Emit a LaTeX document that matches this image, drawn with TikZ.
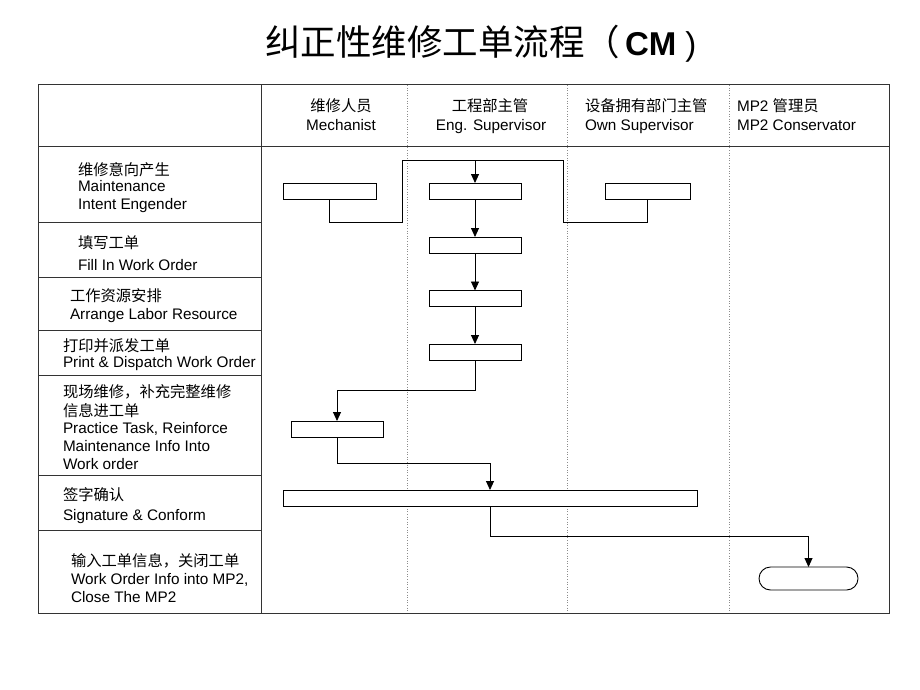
\documentclass[tikz,border=0pt]{standalone}
\usepackage{fontspec}
\setmainfont{Liberation Sans}
\newfontfamily\cjk{Noto Sans CJK SC}
\usetikzlibrary{arrows.meta}
\begin{document}
\begin{tikzpicture}[x=1pt,y=-1pt,
  every node/.style={inner sep=0pt, outer sep=0pt},
  txt/.style={anchor=base west, font=\fontsize{15.3}{18}\selectfont},
  ctxt/.style={anchor=base, font=\fontsize{15.3}{18}\selectfont},
  frame/.style={draw=black!80, line width=1pt},
  lane/.style={draw=black!45, dotted, line width=0.6pt},
  box/.style={draw, line width=0.9pt, minimum height=16pt, fill=white},
  flow/.style={draw, line width=0.9pt},
  arr/.style={flow, -{Triangle[width=8pt,length=9pt]}}
]
\useasboundingbox[fill=white] (0,0) rectangle (920,690);

% title
\node[anchor=base west, font=\fontsize{35.5}{40}\selectfont] (title) at (265,56)
  {{\cjk 纠正性维修工单流程（}\hspace{5pt}{\bfseries\fontsize{33}{36}\selectfont CM}\fontsize{33}{36}\selectfont\ )};

% lanes
\draw[lane] (407,85) -- (407,613);
\draw[lane] (567,85) -- (567,613);
\draw[lane] (729,85) -- (729,613);

% frame
\draw[frame] (38,85) rectangle (889,613);
\draw[frame] (38,146) -- (889,146);
\draw[frame] (261,85) -- (261,613);
\foreach \yy in {222,277,330,375,475,530} \draw[frame] (38,\yy) -- (261,\yy);

% header
\node[ctxt] (h1a) at (341,112) {\cjk 维修人员};
\node[ctxt] (h1b) at (341,130) {Mechanist};
\node[ctxt] (h2a) at (490,112) {\cjk 工程部主管};
\node[ctxt] (h2b) at (491,130) {Eng. Supervisor};
\node[txt] (h3a) at (585,112) {\cjk 设备拥有部门主管};
\node[txt] (h3b) at (585,130) {Own Supervisor};
\node[txt] (h4a) at (737,112) {MP2 {\cjk 管理员}};
\node[txt] (h4b) at (737,130) {MP2 Conservator};

% left column
\node[txt] (r1a) at (78,175) {\cjk 维修意向产生};
\node[txt] (r1b) at (78,191) {Maintenance};
\node[txt] (r1c) at (78,209) {Intent Engender};
\node[txt] (r2a) at (78,248) {\cjk 填写工单};
\node[txt] (r2b) at (78,270) {Fill In Work Order};
\node[txt] (r3a) at (70,301) {\cjk 工作资源安排};
\node[txt] (r3b) at (70,319) {Arrange Labor Resource};
\node[txt] (r4a) at (63,351) {\cjk 打印并派发工单};
\node[txt] (r4b) at (63,367) {Print \& Dispatch Work Order};
\node[txt] (r5a) at (63,397) {\cjk 现场维修，补充完整维修};
\node[txt] (r5b) at (63,416) {\cjk 信息进工单};
\node[txt] (r5c) at (63,433) {Practice Task, Reinforce};
\node[txt] (r5d) at (63,451) {Maintenance Info Into};
\node[txt] (r5e) at (63,469) {Work order};
\node[txt] (r6a) at (63,500) {\cjk 签字确认};
\node[txt] (r6b) at (63,520) {Signature \& Conform};
\node[txt] (r7a) at (71,566) {\cjk 输入工单信息，关闭工单};
\node[txt] (r7b) at (71,584) {Work Order Info into MP2,};
\node[txt] (r7c) at (71,602) {Close The MP2};

% connectors
\coordinate (t) at (475,160);
\coordinate (k1) at (475,390);
\coordinate (k2) at (490,463);
\coordinate (k3) at (808.5,536);

% boxes
\node[box, minimum width=93pt] (A) at (329.5,191) {};
\node[box, minimum width=92pt] (B1) at (475,191) {};
\node[box, minimum width=85pt] (C) at (647.5,191) {};
\node[box, minimum width=92pt] (B2) at (475,245) {};
\node[box, minimum width=92pt] (B3) at (475,298.5) {};
\node[box, minimum width=92pt] (B4) at (475,352) {};
\node[box, minimum width=92pt] (D) at (337,429) {};
\node[box, minimum width=414pt] (E) at (490,498) {};
\node[box, minimum width=99pt, minimum height=23pt, rounded corners=11.5pt] (F) at (808.5,578.5) {};

\draw[flow] (A.south) |- (402,222) |- (t);
\draw[flow] (C.south) |- (563,222) |- (t);
\draw[arr] (t) -- (B1.north);
\draw[arr] (B1.south) -- (B2.north);
\draw[arr] (B2.south) -- (B3.north);
\draw[arr] (B3.south) -- (B4.north);
\draw[arr] (B4.south) -- (k1) -| (D.north);
\draw[arr] (D.south) |- (k2) -- (E.north);
\draw[arr] (E.south) |- (k3) -- (F.north);
\end{tikzpicture}
\end{document}
